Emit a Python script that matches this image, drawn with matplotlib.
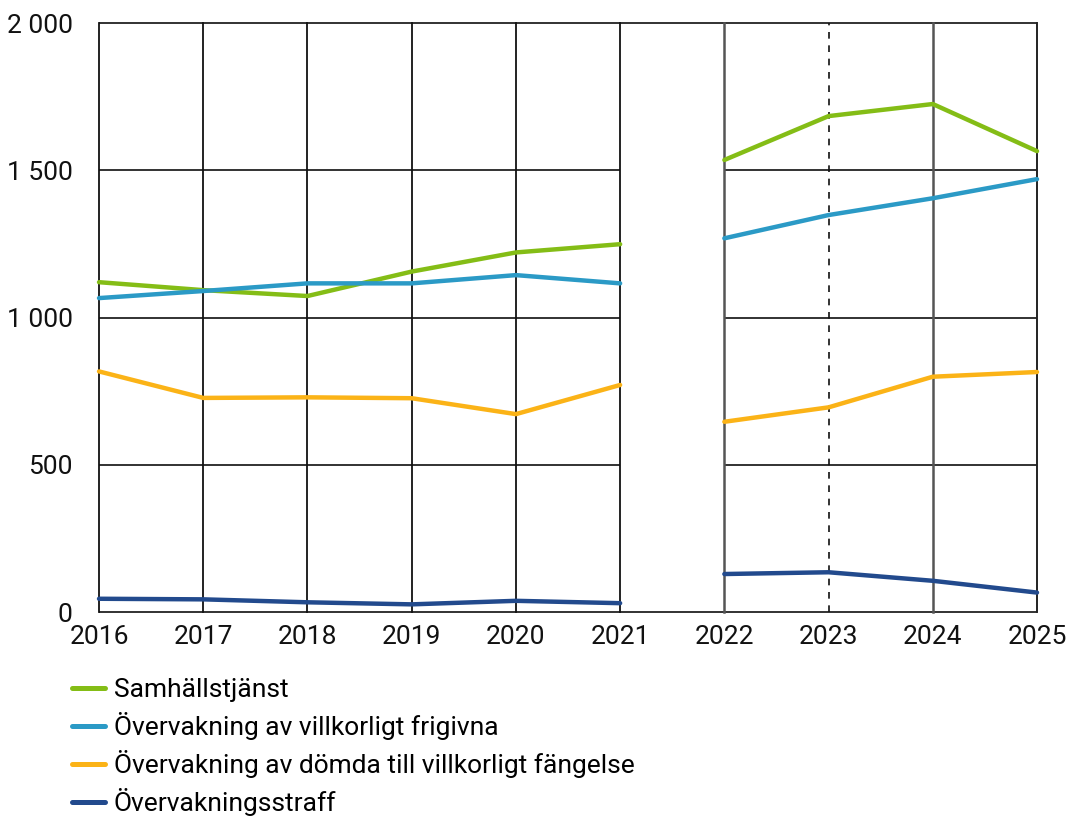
import matplotlib
matplotlib.use("Agg")
import matplotlib.pyplot as plt
from matplotlib.ticker import FuncFormatter

plt.rcParams['font.family'] = ['Roboto', 'DejaVu Sans']

years_a = [2016, 2017, 2018, 2019, 2020, 2021]
years_b = [2022, 2023, 2024, 2025]

samhall_a = [1120, 1093, 1073, 1156, 1221, 1249]
samhall_b = [1535, 1684, 1725, 1565]
frigivna_a = [1066, 1090, 1116, 1116, 1144, 1116]
frigivna_b = [1269, 1348, 1405, 1470]
fangelse_a = [817, 727, 729, 726, 672, 771]
fangelse_b = [646, 695, 799, 815]
straff_a = [45, 43, 33, 26, 38, 30]
straff_b = [129, 135, 106, 66]

labels = ["Samhällstjänst",
          "Övervakning av villkorligt frigivna",
          "Övervakning av dömda till villkorligt fängelse",
          "Övervakningsstraff"]
colors = ["#84BD16", "#2B9AC6", "#FBB317", "#224A8D"]
yticks = [0, 500, 1000, 1500, 2000]
xticks = years_a + years_b

FS = 19

fig = plt.figure(figsize=(10.67, 8.17), dpi=100)
ax = fig.add_axes([0.0928, 0.2509, 0.8791, 0.7209])
ax.set_xlim(2016, 2025)
ax.set_ylim(0, 2000)
for s in ax.spines.values():
    s.set_visible(False)

grid_kw = dict(color="#222222", lw=1.3, zorder=1)
# horizontal grid lines (interrupted in the gap)
for v in yticks[1:-1]:
    ax.hlines(v, years_a[0], years_a[-1], **grid_kw)
    ax.hlines(v, years_b[0], years_b[-1], **grid_kw)
ax.hlines(yticks[-1], xticks[0], xticks[-1], **grid_kw, clip_on=False)
ax.hlines(yticks[0], xticks[0], xticks[-1], **grid_kw, clip_on=False)
# vertical grid lines
for x in years_a:
    ax.axvline(x, color="#111111", lw=1.3, zorder=1, clip_on=False)
for x in years_b:
    if x == 2023:
        ax.axvline(x, color="#111111", lw=1.2, ls=(0, (4, 4)), zorder=1)
    elif x == 2025:
        ax.axvline(x, color="#222222", lw=1.4, zorder=1, clip_on=False)
    else:
        ax.axvline(x, color="#555555", lw=1.8, zorder=1, clip_on=False)

series = [(samhall_a, samhall_b), (frigivna_a, frigivna_b),
          (fangelse_a, fangelse_b), (straff_a, straff_b)]
handles = []
for (a, b), c, lab in zip(series, colors, labels):
    h, = ax.plot(years_a, a, color=c, lw=3.2, solid_capstyle='round', zorder=3, clip_on=False, label=lab)
    ax.plot(years_b, b, color=c, lw=3.2, solid_capstyle='round', zorder=3, clip_on=False)
    handles.append(h)

ax.set_xticks(xticks)
ax.set_xticklabels([str(x) for x in xticks])
ax.set_yticks(yticks)
ax.yaxis.set_major_formatter(FuncFormatter(lambda v, p: f"{int(v):,}".replace(",", " ")))
ax.tick_params(axis='both', length=0, labelsize=FS, colors="#111111")
ax.tick_params(axis='x', pad=9)
ax.tick_params(axis='y', pad=19)

leg = fig.legend(handles=handles, labels=labels, loc='upper left',
                 bbox_to_anchor=(0.0675, 0.170), frameon=False, fontsize=FS,
                 handlelength=1.25, handletextpad=0.34, labelspacing=0.38,
                 borderaxespad=0, borderpad=0)
for l in leg.get_lines():
    l.set_linewidth(3.6)

fig.savefig("out.png", dpi=100)
